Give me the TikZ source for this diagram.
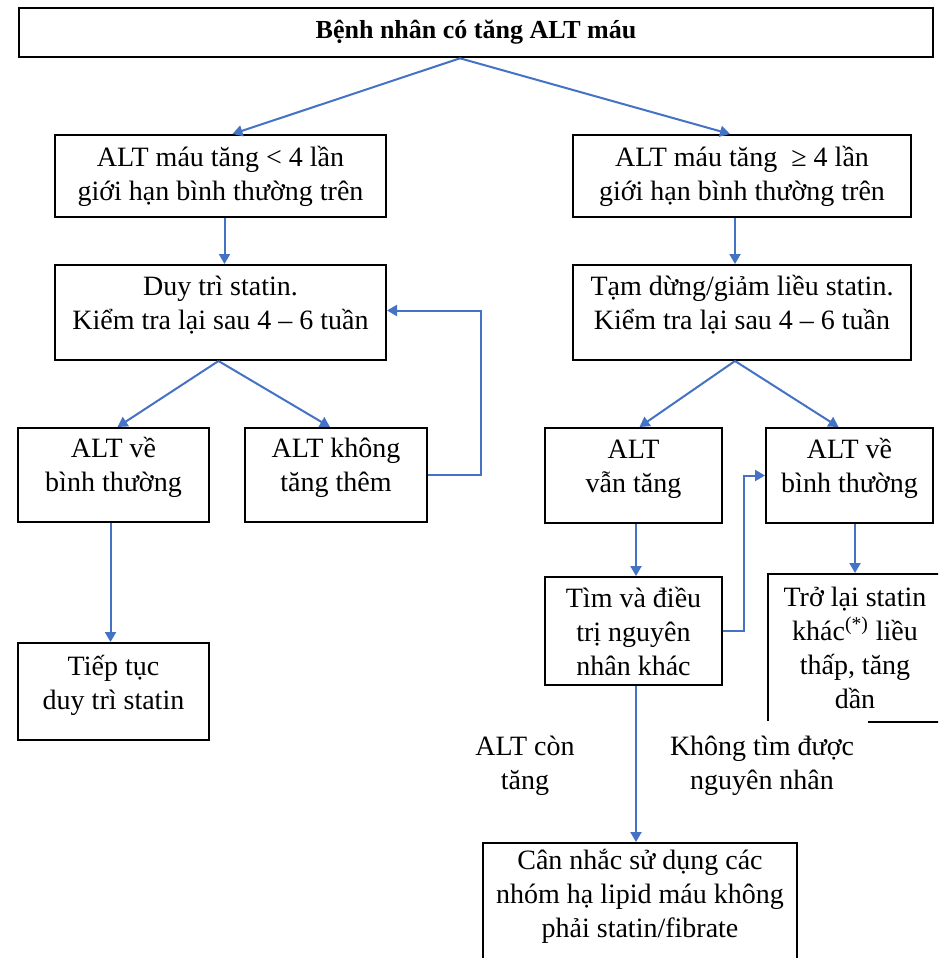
\documentclass[tikz,border=0pt]{standalone}
\usepackage{fontspec}
\setmainfont{Liberation Serif}
\usetikzlibrary{arrows.meta,calc}
\definecolor{flowblue}{HTML}{4472C4}
% stacked lines whose extra depth lifts them inside a box
\newcommand{\liftlines}[2]{\raisebox{0pt}[\height][\dimexpr\depth+#1\relax]{%
  \begin{tabular}{@{}c@{}}#2\end{tabular}}}
\begin{document}
\begin{tikzpicture}[x=0.5pt,y=-0.5pt,
  box/.style={draw=black,line width=1pt,rectangle,inner sep=0pt,align=center,
    font=\fontsize{14}{17}\selectfont},
  arr/.style={draw=flowblue,line width=1pt,-{Triangle[length=5pt,width=5.5pt]}},
  note/.style={align=center,inner sep=0pt,font=\fontsize{14}{17}\selectfont}]
\clip (0,0) rectangle (938,958);
\fill[white] (0,0) rectangle (938,958);

% top row
\node[box,line width=1.3pt,minimum width=457pt,minimum height=24.5pt,
      font=\fontsize{13}{15}\selectfont\bfseries] (title) at (476,32.5)
      {Bệnh nhân có tăng ALT máu};

% left branch
\node[box,minimum width=165.5pt,minimum height=41pt] (l1) at (220.5,176)
      {ALT máu tăng < 4 lần\\giới hạn bình thường trên};
\node[box,minimum width=165.5pt,minimum height=47.5pt] (l2) at (220.5,312.5)
      {\liftlines{7pt}{Duy trì statin.\\Kiểm tra lại sau 4 – 6 tuần}};
\node[box,minimum width=95.5pt,minimum height=47pt] (l3a) at (113.5,475)
      {\liftlines{7pt}{ALT về\\bình thường}};
\node[box,minimum width=91pt,minimum height=47pt] (l3b) at (336,475)
      {\liftlines{7pt}{ALT không\\tăng thêm}};
\node[box,minimum width=95.5pt,minimum height=48.5pt] (l4) at (113.5,691.5)
      {\liftlines{6pt}{Tiếp tục\\duy trì statin}};

% right branch
\node[box,minimum width=169pt,minimum height=41pt] (r1) at (742,176)
      {ALT máu tăng \ ≥ 4 lần\\giới hạn bình thường trên};
\node[box,minimum width=169pt,minimum height=47.5pt] (r2) at (742,312.5)
      {\liftlines{7pt}{Tạm dừng/giảm liều statin.\\Kiểm tra lại sau 4 – 6 tuần}};
\node[box,minimum width=88.5pt,minimum height=47.5pt] (r3a) at (633.5,475.5)
      {\liftlines{7pt}{ALT\\vẫn tăng}};
\node[box,minimum width=83.5pt,minimum height=47.5pt] (r3b) at (849.5,475.5)
      {\liftlines{7pt}{ALT về\\bình thường}};
\node[box,minimum width=88.5pt,minimum height=54pt] (r4a) at (633.5,631)
      {Tìm và điều\\trị nguyên\\nhân khác};
\node[box,minimum width=87pt,minimum height=74pt] (r4b) at (855,648)
      {Trở lại statin\\khác\textsuperscript{(*)} liều\\thấp, tăng\\dần};
\node[box,minimum width=157pt,minimum height=80pt] (bot) at (640,923) {};
\node[note] (bott) at ($(bot.north)+(0,54)$)
      {Cân nhắc sử dụng các\\nhóm hạ lipid máu không\\phải statin/fibrate};

% branch notes
\node[note] (lblA) at (525,766) {ALT còn\\tăng};
\node[note,fill=white,minimum width=106pt,minimum height=45pt] (lblB) at (762,766)
      {Không tìm được\\nguyên nhân};

% connectors
\coordinate (apex) at ($(title.south)+(-16,0)$);
\draw[arr] (apex) -- ($(l1.north)+(12,0)$);
\draw[arr] (apex) -- ($(r1.north)+(-12,0)$);
\draw[arr] ($(l1.south)+(4,0)$) -- ($(l2.north)+(4,0)$);
\draw[arr] ($(r1.south)+(-7,0)$) -- ($(r2.north)+(-7,0)$);
\coordinate (lsplit) at ($(l2.south)+(-2,0)$);
\draw[arr] (lsplit) -- ($(l3a.north)+(4,0)$);
\draw[arr] (lsplit) -- ($(l3b.north)+(-6,0)$);
\draw[arr] (l3b.east) -- ++(53,0) |- ($(l2.east)+(0,-2)$);
\draw[arr] ($(l3a.south)+(-3,0)$) -- ($(l4.north)+(-3,0)$);
\coordinate (rsplit) at ($(r2.south)+(-7,0)$);
\draw[arr] (rsplit) -- ($(r3a.north)+(6,0)$);
\draw[arr] (rsplit) -- ($(r3b.north)+(-11,0)$);
\draw[arr] ($(r3a.south)+(2.5,0)$) -- ($(r4a.north)+(2.5,0)$);
\draw[arr] (r4a.east) -- ++(21,0) |- (r3b.west);
\draw[arr] ($(r3b.south)+(5.5,0)$) -- (r4b.north);
\draw[arr] ($(r4a.south)+(2.5,0)$) -- ($(bot.north)+(-4,0)$);
\end{tikzpicture}
\end{document}
